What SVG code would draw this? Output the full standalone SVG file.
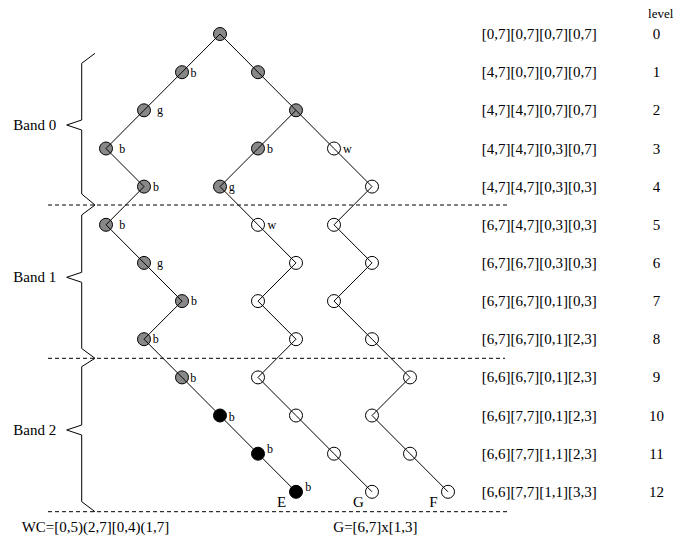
<svg xmlns="http://www.w3.org/2000/svg" width="699" height="538" viewBox="0 0 699 538">
  <style>
    text { font-family: "Liberation Serif", "Times New Roman", serif; fill: #000; }
    .t15 { font-size: 15px; }
    .lbl { font-size: 12px; }
    .lev { font-size: 13px; }
    .num { font-size: 15px; text-anchor: middle; }
    .mid { text-anchor: middle; }
    .n circle { stroke: #000; stroke-width: 1; }
    .gray circle { fill: #888; }
    .white circle { fill: #fff; }
    .black circle { fill: #000; }
    .edge { stroke: #000; stroke-width: 1; fill: none; }
    .dash { stroke: #000; stroke-width: 1; stroke-dasharray: 4 3; fill: none; }
    .brace { stroke: #000; stroke-width: 1; fill: none; }
  </style>

  <!-- band separators -->
  <g id="separators">
    <line class="dash" x1="48" y1="205" x2="507" y2="205"/>
    <line class="dash" x1="48" y1="358.3" x2="505" y2="358.3"/>
    <line class="dash" x1="48" y1="511.7" x2="507" y2="511.7"/>
  </g>

  <!-- band braces and labels -->
  <g id="band0">
    <path class="brace" d="M95,53.3 L81.7,63.3 L81.7,120 L66.7,125 L81.7,130 L81.7,194 L95,205"/>
    <text class="t15" x="13.3" y="130">Band 0</text>
  </g>
  <g id="band1">
    <path class="brace" d="M95,205 L81.7,215 L81.7,272.3 L66.7,277.3 L81.7,282.3 L81.7,348.5 L95,358.3"/>
    <text class="t15" x="13.3" y="282.3">Band 1</text>
  </g>
  <g id="band2">
    <path class="brace" d="M95,358.3 L81.7,366.7 L81.7,425 L66.7,430 L81.7,435 L81.7,501.7 L95,511.7"/>
    <text class="t15" x="13.3" y="435">Band 2</text>
  </g>

  <!-- tree nodes -->
  <g id="nodes">
    <g id="n0_0" class="n gray"><circle cx="220" cy="34" r="6.5"/></g>

    <g id="n1_a" class="n gray"><circle cx="182" cy="72.2" r="6.5"/><text class="lbl" x="190.5" y="76.5">b</text></g>
    <g id="n1_b" class="n gray"><circle cx="258" cy="72.2" r="6.5"/></g>

    <g id="n2_a" class="n gray"><circle cx="144" cy="110.3" r="6.5"/><text class="lbl" x="157" y="114">g</text></g>
    <g id="n2_b" class="n gray"><circle cx="296" cy="110.3" r="6.5"/></g>

    <g id="n3_a" class="n gray"><circle cx="106" cy="148.5" r="6.5"/><text class="lbl" x="119.3" y="152.5">b</text></g>
    <g id="n3_b" class="n gray"><circle cx="258" cy="148.5" r="6.5"/><text class="lbl" x="267" y="152.5">b</text></g>
    <g id="n3_c" class="n white"><circle cx="334" cy="148.5" r="6.5"/><text class="lbl" x="343" y="152.5">w</text></g>

    <g id="n4_a" class="n gray"><circle cx="144" cy="186.6" r="6.5"/><text class="lbl" x="153" y="190.6">b</text></g>
    <g id="n4_b" class="n gray"><circle cx="220" cy="186.6" r="6.5"/><text class="lbl" x="228.7" y="190.6">g</text></g>
    <g id="n4_c" class="n white"><circle cx="372" cy="186.6" r="6.5"/></g>

    <g id="n5_a" class="n gray"><circle cx="106" cy="224.8" r="6.5"/><text class="lbl" x="119.3" y="228.8">b</text></g>
    <g id="n5_b" class="n white"><circle cx="258" cy="224.8" r="6.5"/><text class="lbl" x="267.4" y="228.8">w</text></g>
    <g id="n5_c" class="n white"><circle cx="334" cy="224.8" r="6.5"/></g>

    <g id="n6_a" class="n gray"><circle cx="144" cy="262.9" r="6.5"/><text class="lbl" x="157" y="266.5">g</text></g>
    <g id="n6_b" class="n white"><circle cx="296" cy="262.9" r="6.5"/></g>
    <g id="n6_c" class="n white"><circle cx="372" cy="262.9" r="6.5"/></g>

    <g id="n7_a" class="n gray"><circle cx="182" cy="301.1" r="6.5"/><text class="lbl" x="191" y="305.1">b</text></g>
    <g id="n7_b" class="n white"><circle cx="258" cy="301.1" r="6.5"/></g>
    <g id="n7_c" class="n white"><circle cx="334" cy="301.1" r="6.5"/></g>

    <g id="n8_a" class="n gray"><circle cx="144" cy="339.2" r="6.5"/><text class="lbl" x="152.7" y="343.2">b</text></g>
    <g id="n8_b" class="n white"><circle cx="296" cy="339.2" r="6.5"/></g>
    <g id="n8_c" class="n white"><circle cx="372" cy="339.2" r="6.5"/></g>

    <g id="n9_a" class="n gray"><circle cx="182" cy="377.4" r="6.5"/><text class="lbl" x="190.3" y="382.3">b</text></g>
    <g id="n9_b" class="n white"><circle cx="258" cy="377.4" r="6.5"/></g>
    <g id="n9_c" class="n white"><circle cx="410" cy="377.4" r="6.5"/></g>

    <g id="n10_a" class="n black"><circle cx="220" cy="415.5" r="6.5"/><text class="lbl" x="228.7" y="420.7">b</text></g>
    <g id="n10_b" class="n white"><circle cx="296" cy="415.5" r="6.5"/></g>
    <g id="n10_c" class="n white"><circle cx="372" cy="415.5" r="6.5"/></g>

    <g id="n11_a" class="n black"><circle cx="258" cy="453.7" r="6.5"/><text class="lbl" x="267" y="453.3">b</text></g>
    <g id="n11_b" class="n white"><circle cx="334" cy="453.7" r="6.5"/></g>
    <g id="n11_c" class="n white"><circle cx="410" cy="453.7" r="6.5"/></g>

    <g id="n12_E" class="n black"><circle cx="296" cy="491.8" r="6.5"/><text class="lbl" x="305.3" y="491.3">b</text><text class="t15 mid" x="281.7" y="507">E</text></g>
    <g id="n12_G" class="n white"><circle cx="372" cy="491.8" r="6.5"/><text class="t15 mid" x="358.3" y="507">G</text></g>
    <g id="n12_F" class="n white"><circle cx="448" cy="491.8" r="6.5"/><text class="t15 mid" x="433.3" y="507">F</text></g>
  </g>

  <!-- connectors, drawn centre to centre over the nodes -->
  <g id="connectors" class="edge">
    <path d="M220,34 L182,72.2 L144,110.3 L106,148.5 L144,186.6 L106,224.8 L144,262.9 L182,301.1 L144,339.2 L182,377.4 L220,415.5 L258,453.7 L296,491.8"/>
    <path d="M220,34 L258,72.2 L296,110.3 L258,148.5 L220,186.6 L258,224.8 L296,262.9 L258,301.1 L296,339.2 L258,377.4 L296,415.5 L334,453.7 L372,491.8"/>
    <path d="M296,110.3 L334,148.5 L372,186.6 L334,224.8 L372,262.9 L334,301.1 L372,339.2 L410,377.4 L372,415.5 L410,453.7 L448,491.8"/>
  </g>

  <!-- interval column -->
  <g id="intervals">
    <text class="lev" x="660.7" y="17.5" text-anchor="middle">level</text>
    <text class="t15" x="481.7" y="39">[0,7][0,7][0,7][0,7]</text>
    <text class="t15" x="481.7" y="77.2">[4,7][0,7][0,7][0,7]</text>
    <text class="t15" x="481.7" y="115.3">[4,7][4,7][0,7][0,7]</text>
    <text class="t15" x="481.7" y="153.5">[4,7][4,7][0,3][0,7]</text>
    <text class="t15" x="481.7" y="191.6">[4,7][4,7][0,3][0,3]</text>
    <text class="t15" x="481.7" y="229.8">[6,7][4,7][0,3][0,3]</text>
    <text class="t15" x="481.7" y="267.9">[6,7][6,7][0,3][0,3]</text>
    <text class="t15" x="481.7" y="306.1">[6,7][6,7][0,1][0,3]</text>
    <text class="t15" x="481.7" y="344.2">[6,7][6,7][0,1][2,3]</text>
    <text class="t15" x="481.7" y="382.4">[6,6][6,7][0,1][2,3]</text>
    <text class="t15" x="481.7" y="420.5">[6,6][7,7][0,1][2,3]</text>
    <text class="t15" x="481.7" y="458.7">[6,6][7,7][1,1][2,3]</text>
    <text class="t15" x="481.7" y="496.8">[6,6][7,7][1,1][3,3]</text>

    <text class="num" x="656.5" y="39">0</text>
    <text class="num" x="656.5" y="77.2">1</text>
    <text class="num" x="656.5" y="115.3">2</text>
    <text class="num" x="656.5" y="153.5">3</text>
    <text class="num" x="656.5" y="191.6">4</text>
    <text class="num" x="656.5" y="229.8">5</text>
    <text class="num" x="656.5" y="267.9">6</text>
    <text class="num" x="656.5" y="306.1">7</text>
    <text class="num" x="656.5" y="344.2">8</text>
    <text class="num" x="656.5" y="382.4">9</text>
    <text class="num" x="656.5" y="420.5">10</text>
    <text class="num" x="656.5" y="458.7">11</text>
    <text class="num" x="656.5" y="496.8">12</text>
  </g>

  <!-- footer -->
  <g id="footer">
    <text class="t15" x="21.7" y="531.7">WC=[0,5)(2,7][0,4)(1,7]</text>
    <text class="t15" x="333.3" y="531.7">G=[6,7]x[1,3]</text>
  </g>
</svg>
